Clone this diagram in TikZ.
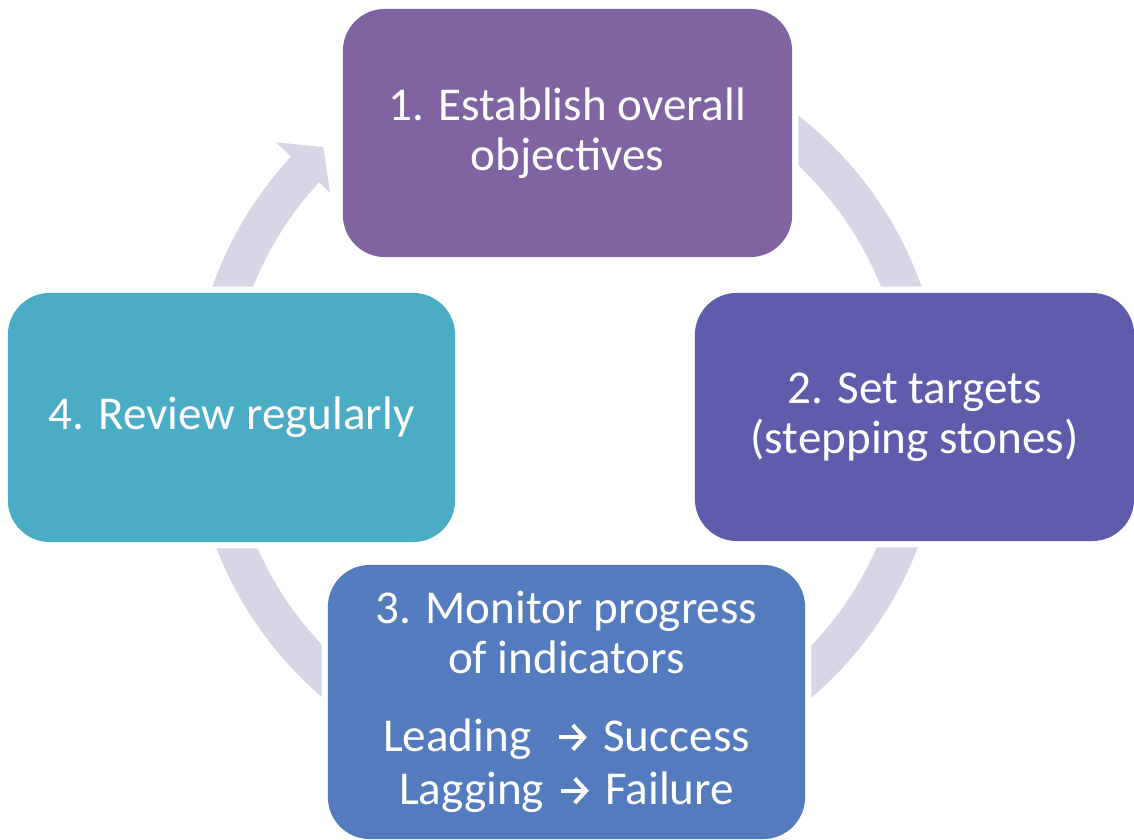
\documentclass[tikz,border=0pt]{standalone}
\usepackage{fontspec}
\setmainfont{Carlito}
\usetikzlibrary{arrows.meta}

\definecolor{ringgray}{HTML}{D8D5E6}
\definecolor{stepone}{HTML}{8064A2}
\definecolor{steptwo}{HTML}{605CAC}
\definecolor{stepthree}{HTML}{547BBD}
\definecolor{stepfour}{HTML}{4BACC6}

\newcommand{\thenarrow}{\hspace{0.08em}\tikz[baseline = 0pt]\draw[white, line width = 1.15pt, -{Straight Barb[length = 0.24em, width = 0.52em]}] (0em,0.3em) -- (0.6em,0.3em);\hspace{0.08em}}

\begin{document}
\begin{tikzpicture}[x = 0.01cm, y = 0.01cm]
\tikzstyle{BoxStyle}=[
shape = rectangle,
rounded corners = 0.42cm,
inner sep = 0pt,
text = white,
align = center,
font = \fontsize{13.4}{14.2}\selectfont,
preaction = {draw = white, line width = 3.6pt}]
\useasboundingbox (0,0) rectangle (1134,840);
\coordinate (hub) at (567,428);
\begin{scope}[shift = {(hub)}]
\fill[ringgray] (137.2:376) arc[start angle = 137.2, end angle = 450, radius = 376]
  -- (450:338) arc[start angle = 450, end angle = 137.2, radius = 338]
  -- (137.2:323) -- (132.6:360) -- (137.2:397) -- cycle;
\end{scope}
\node[BoxStyle, fill = stepone, minimum width = 4.49cm, minimum height = 2.48cm] (objectives) at (567.5,707) {1. Establish overall\\objectives};
\node[BoxStyle, fill = steptwo, minimum width = 4.39cm, minimum height = 2.48cm] (targets) at (914.5,423) {2. Set targets\\(stepping stones)};
\node[BoxStyle, fill = stepthree, minimum width = 4.77cm, minimum height = 2.74cm] (monitor) at (566.5,138) {3. Monitor progress\\of indicators\\[8pt]Leading\ \ \thenarrow\ Success\\[1pt]Lagging \thenarrow\ Failure};
\node[BoxStyle, fill = stepfour, minimum width = 4.47cm, minimum height = 2.49cm] (review) at (231.5,422.5) {4. Review regularly};
\end{tikzpicture}
\end{document}
